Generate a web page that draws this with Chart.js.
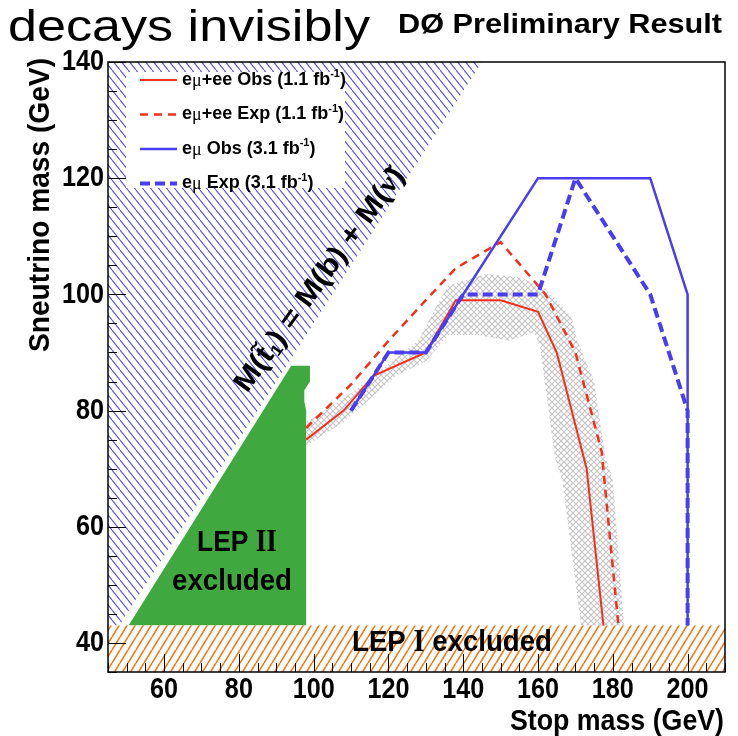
<!DOCTYPE html>
<html>
<head>
<meta charset="utf-8">
<script src="https://cdn.jsdelivr.net/npm/chart.js@4.4.1/dist/chart.umd.min.js"></script>
<style>
  html, body { margin: 0; padding: 0; background: #fff; }
  #wrap { width: 738px; height: 736px; }
</style>
</head>
<body>
<div id="wrap"><canvas id="graph" width="738" height="736"></canvas></div>
<script>
// stop mass (x) vs sneutrino mass (y), both in GeV
const obsComboX = [98, 108, 116, 130, 138, 150, 160, 165, 173, 177.5];
const obsComboY = [75, 80, 86, 90, 99, 99, 97, 90, 70, 43];
const expComboX = [98, 110, 120, 130, 138, 150, 160, 162, 170, 177, 181.5];
const expComboY = [77, 84.5, 92, 99, 104.5, 109, 101.5, 100, 90, 73, 43];
const obsEmuX = [110, 120, 130, 160, 190, 200, 200];
const obsEmuY = [80, 90, 90, 120, 120, 100, 43];
const expEmuX = [110, 120, 130, 140, 160, 170, 190, 200, 200];
const expEmuY = [80, 90, 90, 100, 100, 120, 100, 80, 43];

// grey band around the combined limit
const bandUpX = [98, 110, 120, 128, 132, 136, 146, 155, 162, 169, 170.5, 175, 178, 180, 183];
const bandUpY = [78, 83, 88, 92, 97, 101.5, 103.5, 103, 101, 96, 92, 85, 72, 68, 43];
const bandLoX = [98, 108, 115, 122, 130, 136, 144, 152, 159, 160.5, 162, 164.5, 166.5, 171.5];
const bandLoY = [74, 78, 82, 86, 88.5, 93, 93, 92, 93.5, 91, 84, 72, 68, 43];

// excluded regions
const lep2X = [50.5, 94, 99, 99, 97.5, 97.5, 98, 98];
const lep2Y = [43, 87.7, 87.7, 85, 83.5, 81.5, 80, 43];
const kinX = [45, 48, 145, 45];
const kinY = [43, 43, 140, 140];
const lep1X = [45, 210, 210, 45];
const lep1Y = [35, 35, 43, 43];

const xTicks = [60, 80, 100, 120, 140, 160, 180, 200];
const yTicks = [40, 60, 80, 100, 120, 140];

const RED = '#f2301c';
const BLUE = '#4a3cf0';
const SANS = '"Liberation Sans", Arial, sans-serif';
const SERIF = '"Liberation Serif", "Times New Roman", serif';

function pts(xs, ys) { return xs.map((x, i) => ({ x: x, y: ys[i] })); }

function hatch(color, w, h, lw, dir, bg) {
  const c = document.createElement('canvas');
  c.width = w; c.height = h;
  const g = c.getContext('2d');
  if (bg) { g.fillStyle = bg; g.fillRect(0, 0, w, h); }
  g.strokeStyle = color; g.lineWidth = lw;
  g.beginPath();
  for (let k = -1; k <= 1; k++) {
    if (dir > 0) { g.moveTo(k * w, h); g.lineTo(k * w + w, 0); }
    else { g.moveTo(k * w, 0); g.lineTo(k * w + w, h); }
  }
  g.stroke();
  return g.createPattern(c, 'repeat');
}

function crossHatch() {
  const c = document.createElement('canvas');
  c.width = 6; c.height = 6;
  const g = c.getContext('2d');
  g.strokeStyle = '#c6c6c6'; g.lineWidth = 1.2;
  g.beginPath();
  g.moveTo(-1, -1); g.lineTo(7, 7);
  g.moveTo(-1, 7); g.lineTo(7, -1);
  g.stroke();
  return g.createPattern(c, 'repeat');
}

const ctx = document.getElementById('graph').getContext('2d');

// segments: [text, font, dy]; sx = horizontal squeeze (or target width if > 5)
function richText(c, segs, cx, cy, fit, angle, baseline) {
  let total = 0;
  segs.forEach(s => { c.font = s[1]; s.w = c.measureText(s[0]).width; total += s.w; });
  c.save();
  c.translate(cx, cy);
  if (angle) c.rotate(angle);
  if (fit) c.scale(fit > 5 ? fit / total : fit, 1);
  c.textAlign = 'left';
  c.textBaseline = baseline || 'middle';
  c.fillStyle = '#000';
  let x = -total / 2;
  segs.forEach(s => { c.font = s[1]; c.fillText(s[0], x, s[2] || 0); x += s.w; });
  c.restore();
  return total * (fit ? (fit > 5 ? fit / total : fit) : 1);
}

const legendRows = [
  { color: RED, width: 2, dash: [], rest: '+ee Obs (1.1 fb' },
  { color: RED, width: 2.5, dash: [8, 6], rest: '+ee Exp (1.1 fb' },
  { color: BLUE, width: 2.5, dash: [], rest: ' Obs (3.1 fb' },
  { color: BLUE, width: 4, dash: [10, 5], rest: ' Exp (3.1 fb' }
];

const decor = {
  id: 'decor',
  afterDatasetsDraw(chart) {
    const c = chart.ctx;
    const a = chart.chartArea;
    const xs = chart.scales.x, ys = chart.scales.y;

    // legend box
    c.save();
    c.fillStyle = '#fff';
    c.fillRect(126, 72, 219, 116);
    legendRows.forEach((r, i) => {
      const y = 80 + i * 34.5;
      c.strokeStyle = r.color; c.lineWidth = r.width; c.setLineDash(r.dash);
      c.beginPath(); c.moveTo(140, y); c.lineTo(177, y); c.stroke();
      c.setLineDash([]);
      c.fillStyle = '#000';
      c.textBaseline = 'middle'; c.textAlign = 'left';
      let x = 182;
      const parts = [
        ['e', 'bold 18px ' + SANS, 0],
        ['\u03bc', '18px ' + SERIF, 1],
        [r.rest, 'bold 18px ' + SANS, 0],
        ['-1', 'bold 11px ' + SANS, -6],
        [')', 'bold 18px ' + SANS, 0]
      ];
      parts.forEach(p => { c.font = p[1]; c.fillText(p[0], x, y + p[2]); x += c.measureText(p[0]).width; });
    });
    c.restore();

    // frame
    c.save();
    c.strokeStyle = '#000'; c.lineWidth = 1.5;
    c.strokeRect(a.left, a.top, a.right - a.left, a.bottom - a.top);
    // inner ticks
    c.lineWidth = 1;
    c.beginPath();
    for (let v = 45; v <= 210; v += 5) {
      const px = Math.round(xs.getPixelForValue(v)) + 0.5;
      const len = xTicks.includes(v) ? 18 : 9;
      c.moveTo(px, a.bottom); c.lineTo(px, a.bottom - len);
    }
    for (let v = 35; v <= 140; v += 5) {
      const py = Math.round(ys.getPixelForValue(v)) + 0.5;
      const len = yTicks.includes(v) ? 18 : 9;
      c.moveTo(a.left, py); c.lineTo(a.left + len, py);
    }
    c.stroke();
    c.restore();

    // tick labels (condensed bold, like the original)
    const tickFont = 'bold 30px ' + SANS;
    xTicks.forEach(v => {
      richText(c, [[String(v), tickFont]], xs.getPixelForValue(v), 690, 0.84);
    });
    yTicks.forEach(v => {
      c.font = tickFont;
      const w = c.measureText(String(v)).width * 0.84;
      richText(c, [[String(v), tickFont]], 104 - w / 2, ys.getPixelForValue(v), 0.84);
    });

    // in-plot labels
    richText(c, [['LEP ', 'bold 30px ' + SANS], ['II', 'bold 31px ' + SERIF]], 237, 543, 80);
    richText(c, [['excluded', 'bold 30px ' + SANS]], 232, 582, 120);
    richText(c, [['LEP ', 'bold 30px ' + SANS], ['I', 'bold 31px ' + SERIF], [' excluded', 'bold 30px ' + SANS]], 452, 643, 200);
    richText(c, [
      ['M(t\u0303', 'bold 28px ' + SANS],
      ['1', 'bold 16px ' + SANS, 7],
      [') = M(b) + M(', 'bold 28px ' + SANS],
      ['\u03bd\u0303', 'bold 28px ' + SERIF],
      [')', 'bold 28px ' + SANS]
    ], 320, 280, 270, -54 * Math.PI / 180);

    // titles
    richText(c, [['decays invisibly', '44px ' + SANS]], 189, 41, 362, 0, 'alphabetic');
    richText(c, [['D\u00d8 Preliminary Result', 'bold 27px ' + SANS]], 560, 33, 324, 0, 'alphabetic');
    richText(c, [['Sneutrino mass (GeV)', 'bold 30px ' + SANS]], 41, 205, 294, -Math.PI / 2);
    richText(c, [['Stop mass (GeV)', 'bold 30px ' + SANS]], 617, 722, 214);
  }
};

const lineDs = (label, xs, ys, color, width, dash) => ({
  label: label, data: pts(xs, ys), borderColor: color, borderWidth: width,
  borderDash: dash, fill: false, pointRadius: 0, tension: 0, order: 1
});
const areaDs = (label, xs, ys, bg, order) => ({
  label: label, data: pts(xs, ys), borderColor: 'rgba(0,0,0,0)', borderWidth: 0,
  backgroundColor: bg, fill: 'shape', pointRadius: 0, tension: 0, order: order
});

const bandX = bandUpX.concat(bandLoX.slice().reverse());
const bandY = bandUpY.concat(bandLoY.slice().reverse());

new Chart(ctx, {
  type: 'line',
  data: {
    datasets: [
      lineDs('e\u03bc Obs (3.1 fb-1)', obsEmuX, obsEmuY, BLUE, 2.5, []),
      lineDs('e\u03bc Exp (3.1 fb-1)', expEmuX, expEmuY, BLUE, 4, [10, 5]),
      lineDs('e\u03bc+ee Obs (1.1 fb-1)', obsComboX, obsComboY, RED, 2, []),
      lineDs('e\u03bc+ee Exp (1.1 fb-1)', expComboX, expComboY, RED, 2.5, [8, 6]),
      areaDs('band', bandX, bandY, crossHatch(), 3),
      areaDs('LEP I', lep1X, lep1Y, hatch('#f07a1a', 8, 13, 1.6, 1, '#fff'), 4),
      areaDs('LEP II', lep2X, lep2Y, '#3fa83f', 4),
      areaDs('kinematic', kinX, kinY, hatch('#5a55e0', 8, 10, 1.1, -1, null), 5)
    ]
  },
  options: {
    responsive: false,
    animation: false,
    layout: { padding: { top: 62, right: 13, left: 0, bottom: 0 } },
    plugins: { legend: { display: false }, tooltip: { enabled: false } },
    scales: {
      x: {
        type: 'linear', min: 45, max: 210,
        grid: { display: false }, border: { display: false },
        ticks: { display: false },
        afterBuildTicks: s => { s.ticks = xTicks.map(v => ({ value: v })); },
        afterFit: s => { s.height = 64; }
      },
      y: {
        type: 'linear', min: 35, max: 140,
        grid: { display: false }, border: { display: false },
        ticks: { display: false },
        afterBuildTicks: s => { s.ticks = yTicks.map(v => ({ value: v })); },
        afterFit: s => { s.width = 108; }
      }
    }
  },
  plugins: [decor]
});
</script>
</body>
</html>
